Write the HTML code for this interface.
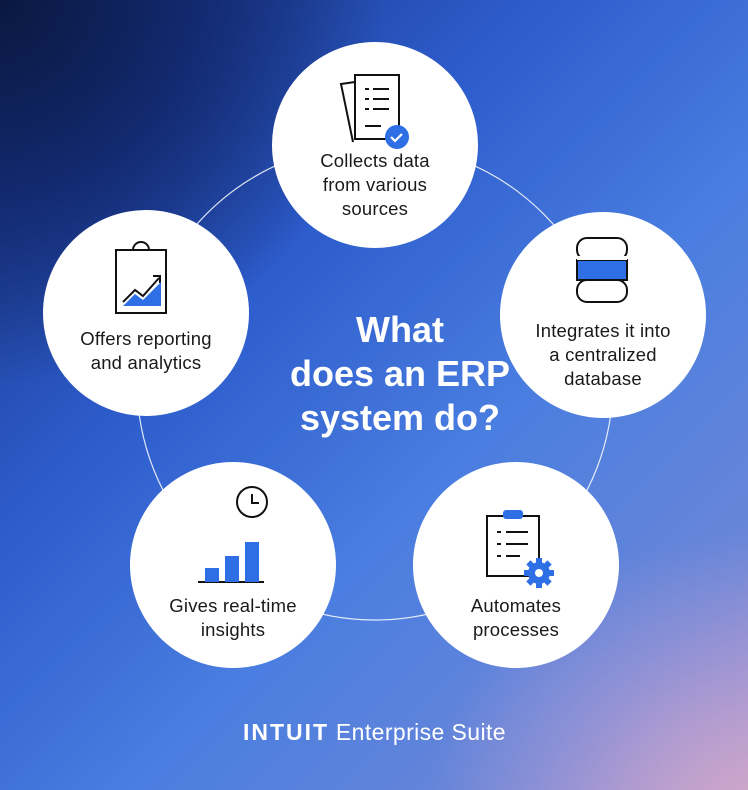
<!DOCTYPE html>
<html><head><meta charset="utf-8"><style>
html,body{margin:0;padding:0}
body{width:748px;height:790px;position:relative;overflow:hidden;font-family:"Liberation Sans",sans-serif;
background:
radial-gradient(ellipse 420px 360px at 760px 820px, rgba(215,170,200,0.95), rgba(190,160,210,0.5) 45%, rgba(120,130,220,0) 80%),
radial-gradient(ellipse 480px 480px at 0px 0px, #0a1840 0%, rgba(15,35,100,0.8) 40%, rgba(40,90,200,0) 80%),
linear-gradient(135deg,#16307a 0%,#2d5ccc 35%,#4a7ee0 60%,#6a86d8 85%,#9a90d0 100%);}
.c{position:absolute;width:206px;height:206px;border-radius:50%;background:#fff;text-align:center;color:#1a1a1a;font-size:18.5px;line-height:24px;letter-spacing:0.2px}
.c .t{position:absolute;left:-10px;right:-10px}
.title{position:absolute;left:240px;width:320px;top:308px;text-align:center;color:#fff;font-weight:bold;font-size:36px;line-height:44px}
</style></head><body>
<svg width="748" height="790" style="position:absolute;left:0;top:0">
<circle cx="375" cy="382" r="238" fill="none" stroke="#fff" stroke-width="1.2" opacity="0.85"/>
</svg>
<div class="title">What<br>does an ERP<br>system do?</div>

<div class="c" style="left:272px;top:42px">
<svg width="206" height="110" style="position:absolute;left:0;top:0">
<g fill="none" stroke="#111" stroke-width="2">
<path d="M81 100 L69 42 L83 40"/><rect x="83" y="33" width="44" height="64" fill="#fff"/>
<path d="M93 47h4M101 47h16M93 57h4M101 57h16M93 67h4M101 67h16M93 84h16"/></g>
<circle cx="125" cy="95" r="12" fill="#2f6fe6"/><path d="M119 95l4 4 7-7" stroke="#fff" stroke-width="2.2" fill="none"/>
</svg>
<div class="t" style="top:107px">Collects data<br>from various<br>sources</div></div>

<div class="c" style="left:500px;top:212px">
<svg width="206" height="100" style="position:absolute;left:0;top:0">
<g stroke="#111" stroke-width="2"><rect x="77" y="26" width="50" height="22" rx="10" fill="#fff"/>
<rect x="77" y="48" width="50" height="20" fill="#2f6fe6"/><rect x="77" y="68" width="50" height="22" rx="10" fill="#fff"/>
<rect x="77" y="44" width="50" height="4" fill="#fff" stroke="none"/></g>
</svg>
<div class="t" style="top:107px">Integrates it into<br>a centralized<br>database</div></div>

<div class="c" style="left:43px;top:210px">
<svg width="206" height="110" style="position:absolute;left:0;top:0">
<g fill="none" stroke="#111" stroke-width="2"><rect x="73" y="40" width="50" height="63"/>
<path d="M90 40 a8 8 0 0 1 16 0"/><path d="M80 92l12-12 8 6 16-18M110 66h7v7"/></g>
<path d="M80 96l12-12 8 6 18-18v24z" fill="#2f6fe6"/>
</svg>
<div class="t" style="top:117px">Offers reporting<br>and analytics</div></div>

<div class="c" style="left:130px;top:462px">
<svg width="206" height="130" style="position:absolute;left:0;top:0">
<g fill="none" stroke="#111" stroke-width="2"><circle cx="122" cy="40" r="15"/><path d="M122 32v9h7"/>
<path d="M68 120h66"/></g>
<rect x="75" y="106" width="14" height="14" fill="#2f6fe6"/><rect x="95" y="94" width="14" height="26" fill="#2f6fe6"/><rect x="115" y="80" width="14" height="40" fill="#2f6fe6"/>
</svg>
<div class="t" style="top:132px">Gives real-time<br>insights</div></div>

<div class="c" style="left:413px;top:462px">
<svg width="206" height="130" style="position:absolute;left:0;top:0">
<g fill="none" stroke="#111" stroke-width="2"><rect x="74" y="54" width="52" height="60"/>
<path d="M84 70h4M93 70h22M84 82h4M93 82h22M84 94h4M93 94h14"/></g>
<rect x="90" y="48" width="20" height="9" rx="3" fill="#2f6fe6"/>
<g fill="#2f6fe6"><circle cx="126" cy="111" r="11"/>
<g transform="translate(126 111)"><rect x="-3" y="-15" width="6" height="30"/><rect x="-15" y="-3" width="30" height="6"/>
<rect x="-3" y="-15" width="6" height="30" transform="rotate(45)"/><rect x="-3" y="-15" width="6" height="30" transform="rotate(-45)"/></g></g>
<circle cx="126" cy="111" r="4" fill="#fff"/>
</svg>
<div class="t" style="top:132px">Automates<br>processes</div></div>

<div style="position:absolute;left:243px;top:719px;color:#fff;font-size:23px;line-height:26px;white-space:nowrap;letter-spacing:0.4px"><b style="letter-spacing:2px">INTUIT</b> Enterprise Suite</div>
</body></html>
